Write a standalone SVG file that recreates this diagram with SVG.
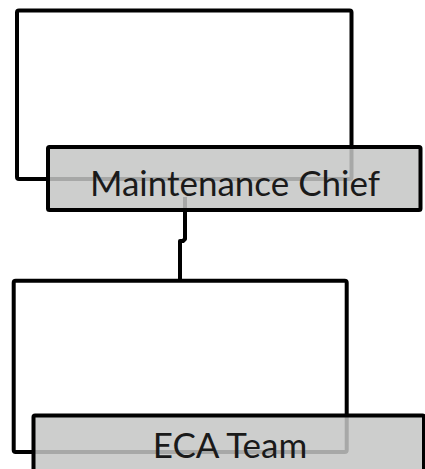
<svg xmlns="http://www.w3.org/2000/svg" width="425" height="469" viewBox="0 0 425 469">
  <style>
    .line { fill: none; stroke: #000; stroke-width: 4; stroke-linejoin: round; }
    .box { fill: #c4c5c4; fill-opacity: 0.85; stroke: #000; stroke-width: 4; }
    .label { font-family: "Lato", "Liberation Sans", sans-serif; font-size: 35px; fill: #1a1a1a; text-anchor: middle; }
  </style>
  <rect width="425" height="469" fill="#fff"/>
  <g id="connectors">
    <rect class="line" x="17" y="10.5" width="334.5" height="168.5" rx="2"/>
    <path class="line" d="M185 197 V239 L183 241 H180 V281"/>
    <rect class="line" x="13.7" y="280.7" width="333" height="171.3" rx="2"/>
  </g>
  <g id="maintenance-chief">
    <rect class="box" x="48" y="147" width="372.5" height="63" rx="1.5"/>
    <text class="label" x="235" y="195.5">Maintenance Chief</text>
  </g>
  <g id="eca-team">
    <rect class="box" x="33.5" y="415.5" width="390.5" height="63" rx="1.5"/>
    <text class="label" x="230" y="458">ECA Team</text>
  </g>
</svg>
